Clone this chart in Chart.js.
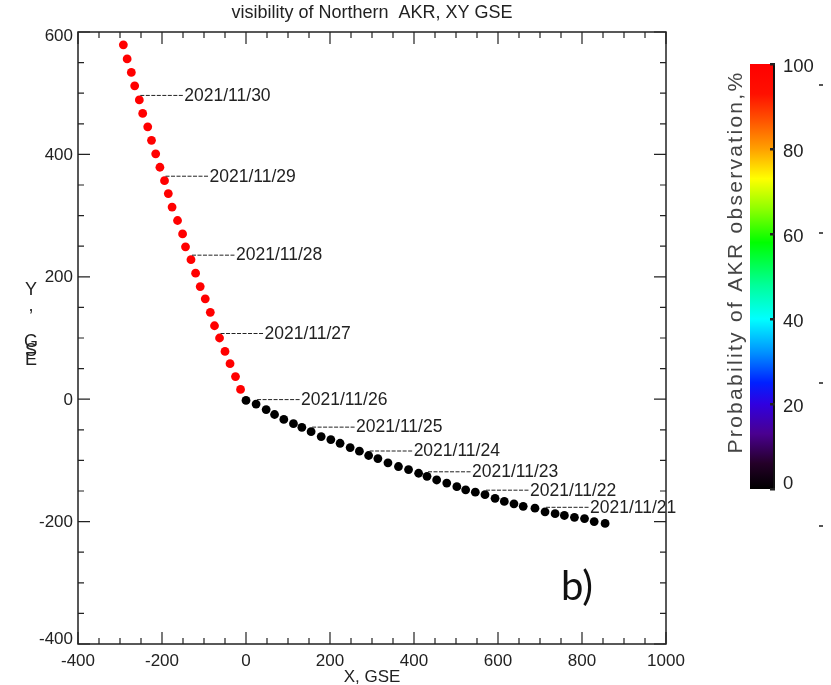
<!DOCTYPE html>
<html>
<head>
<meta charset="utf-8">
<title>visibility of Northern AKR, XY GSE</title>
<script src="https://cdn.jsdelivr.net/npm/chart.js@4.4.1/dist/chart.umd.min.js"></script>
<style>
  html, body { margin: 0; padding: 0; background: #fff; }
  #c { display: block; }
</style>
</head>
<body>
<canvas id="c" width="831" height="685"></canvas>
<script>
// points with high AKR probability (red) and low (black), X/Y GSE
const redX = [-292, -283, -273, -265, -254, -246, -234, -225, -215, -205, -194, -185, -176, -163, -151, -144, -131, -120, -109, -97, -85, -75, -63, -50, -38, -25, -13];
const redY = [579, 556, 534, 512, 489, 467, 445, 423, 401, 379, 357, 336, 314, 292, 270, 249, 228, 206, 184, 164, 142, 120, 100, 78, 58, 37, 16];
const blackX = [0, 24, 48, 68, 90, 113, 133, 155, 179, 202, 224, 248, 270, 292, 314, 338, 363, 387, 411, 431, 454, 478, 502, 523, 546, 569, 593, 615, 638, 660, 688, 712, 736, 758, 782, 806, 829, 855];
const blackY = [-2, -8, -17, -25, -33, -40, -46, -53, -61, -66, -72, -79, -85, -92, -97, -104, -110, -115, -121, -126, -132, -137, -143, -148, -152, -156, -162, -167, -171, -175, -178, -184, -187, -190, -193, -195, -200, -203];

// day marks: label text, which series (0 red, 1 black) and point index
const dayLabels = ['2021/11/30', '2021/11/29', '2021/11/28', '2021/11/27', '2021/11/26', '2021/11/25', '2021/11/24', '2021/11/23', '2021/11/22', '2021/11/21'];
const daySeries = [0, 0, 0, 0, 1, 1, 1, 1, 1, 1];
const dayIndex = [4, 10, 16, 22, 1, 7, 13, 19, 25, 31];

const xTicks = [-400, -200, 0, 200, 400, 600, 800, 1000];
const yTicks = [-400, -200, 0, 200, 400, 600];
const cbarTicks = [0, 20, 40, 60, 80, 100];

const FONT = "'Liberation Sans', Arial, sans-serif";
const TXT = '#222';

function toPts(xs, ys) {
  return xs.map((x, i) => ({ x: x, y: ys[i] }));
}

const decor = {
  id: 'decor',
  afterDraw(chart) {
    const ctx = chart.ctx;
    const a = chart.chartArea;
    const xs = chart.scales.x, ys = chart.scales.y;
    ctx.save();

    // frame
    ctx.strokeStyle = '#222';
    ctx.lineWidth = 1.5;
    ctx.strokeRect(a.left, a.top, a.right - a.left, a.bottom - a.top);

    // inward ticks, major + minor (every 50)
    ctx.lineWidth = 1.2;
    ctx.beginPath();
    for (let v = xs.min; v <= xs.max; v += 50) {
      const len = xTicks.includes(v) ? 12 : 6;
      const p = xs.getPixelForValue(v);
      ctx.moveTo(p, a.bottom); ctx.lineTo(p, a.bottom - len);
      ctx.moveTo(p, a.top); ctx.lineTo(p, a.top + len);
    }
    for (let v = ys.min; v <= ys.max; v += 50) {
      const len = yTicks.includes(v) ? 12 : 6;
      const p = ys.getPixelForValue(v);
      ctx.moveTo(a.left, p); ctx.lineTo(a.left + len, p);
      ctx.moveTo(a.right, p); ctx.lineTo(a.right - len, p);
    }
    ctx.stroke();

    // y tick labels (end labels sit a little inside the frame, as in the original)
    ctx.fillStyle = TXT;
    ctx.font = '17px ' + FONT;
    ctx.textAlign = 'right';
    ctx.textBaseline = 'middle';
    yTicks.forEach(v => {
      let p = ys.getPixelForValue(v);
      p = Math.min(Math.max(p, a.top + 3), a.bottom - 6);
      ctx.fillText(String(v), a.left - 5, p + 1);
    });

    // title
    ctx.font = '18px ' + FONT;
    ctx.textAlign = 'center';
    ctx.fillText('visibility of Northern  AKR, XY GSE', (a.left + a.right) / 2, 13);

    // x axis title
    ctx.font = '17px ' + FONT;
    ctx.fillText('X, GSE', (a.left + a.right) / 2, 677);

    // y axis title, stacked letters like the original
    ctx.font = '18px ' + FONT;
    [['Y', 290], [',', 306], ['G', 342], ['S', 351], ['E', 360]].forEach(([ch, y]) => {
      ctx.fillText(ch, 31, y);
    });

    // day labels with dashed leaders
    ctx.font = '17.5px ' + FONT;
    ctx.textAlign = 'left';
    dayLabels.forEach((lab, i) => {
      const pt = chart.getDatasetMeta(daySeries[i]).data[dayIndex[i]];
      const x0 = pt.x + 1, y0 = pt.y - 5;
      ctx.strokeStyle = '#222';
      ctx.lineWidth = 1;
      ctx.setLineDash([4, 1.5]);
      ctx.beginPath();
      ctx.moveTo(x0, y0 + 0.5); ctx.lineTo(x0 + 44, y0 + 0.5);
      ctx.stroke();
      ctx.setLineDash([]);
      ctx.fillText(lab, x0 + 44, y0 + 1);
    });

    // colorbar
    const cbL = 750, cbR = 773, cbT = 64, cbB = 489;
    const g = ctx.createLinearGradient(0, cbB, 0, cbT);
    [[0, '#000000'], [0.06, '#240028'], [0.13, '#4a0090'], [0.2, '#3000e0'], [0.25, '#0020ff'],
     [0.32, '#0090ff'], [0.4, '#00ffff'], [0.48, '#00ff99'], [0.58, '#00ff00'], [0.66, '#90ff00'],
     [0.73, '#ffff00'], [0.8, '#ffa000'], [0.87, '#ff5000'], [0.93, '#ff1000'], [1, '#ff0000']]
      .forEach(([s, c]) => g.addColorStop(s, c));
    ctx.fillStyle = g;
    ctx.fillRect(cbL, cbT, cbR - cbL, cbB - cbT);
    ctx.strokeStyle = '#111';
    ctx.lineWidth = 2;
    ctx.beginPath();
    ctx.moveTo(cbR + 1, cbT - 1); ctx.lineTo(cbR + 1, cbB + 1);
    ctx.stroke();
    ctx.fillStyle = TXT;
    ctx.font = '18.5px ' + FONT;
    ctx.textAlign = 'left';
    ctx.textBaseline = 'middle';
    cbarTicks.forEach(v => {
      const y = cbB - (v / 100) * (cbB - cbT);
      ctx.fillRect(cbR - 3, y - 1, 5, 2.5);
      ctx.fillText(String(v), 783, y + (v === 0 ? -5 : 3));
    });
    ctx.save();
    ctx.translate(736, 262);
    ctx.rotate(-Math.PI / 2);
    ctx.fillStyle = '#444';
    ctx.font = '21px ' + FONT;
    ctx.letterSpacing = '2.3px';
    ctx.textAlign = 'center';
    ctx.fillText('Probability of AKR observation,%', 0, 0);
    ctx.restore();

    // stray marks on the far right
    ctx.fillStyle = '#555';
    [84, 232, 382, 525].forEach(y => ctx.fillRect(819, y, 4, 2));

    // panel letter
    ctx.fillStyle = '#111';
    ctx.font = '40px Lato, Carlito, sans-serif';
    ctx.textAlign = 'left';
    ctx.textBaseline = 'alphabetic';
    ctx.fillText('b)', 561, 600);

    ctx.restore();
  }
};

new Chart(document.getElementById('c'), {
  type: 'scatter',
  data: {
    datasets: [
      {
        label: 'high',
        data: toPts(redX, redY),
        backgroundColor: '#ff0000',
        borderWidth: 0,
        pointRadius: 4.4
      },
      {
        label: 'low',
        data: toPts(blackX, blackY),
        backgroundColor: '#000000',
        borderWidth: 0,
        pointRadius: 4.4
      }
    ]
  },
  options: {
    responsive: false,
    animation: false,
    devicePixelRatio: 1,
    layout: { padding: { left: 0, right: 165, top: 32, bottom: 0 } },
    plugins: {
      legend: { display: false },
      tooltip: { enabled: false },
      title: { display: false }
    },
    scales: {
      x: {
        type: 'linear',
        min: -400,
        max: 1000,
        grid: { display: false, drawTicks: false },
        border: { display: false },
        afterBuildTicks: axis => { axis.ticks = xTicks.map(v => ({ value: v })); },
        afterFit: axis => { axis.height = 41; },
        ticks: {
          color: TXT,
          font: { family: FONT, size: 17 },
          padding: 7,
          maxRotation: 0,
          autoSkip: false,
          callback: v => String(v)
        },
        title: { display: false }
      },
      y: {
        type: 'linear',
        min: -400,
        max: 600,
        grid: { display: false, drawTicks: false },
        border: { display: false },
        afterBuildTicks: axis => { axis.ticks = yTicks.map(v => ({ value: v })); },
        afterFit: axis => { axis.width = 78; },
        ticks: { display: false }
      }
    }
  },
  plugins: [decor]
});
</script>
</body>
</html>
